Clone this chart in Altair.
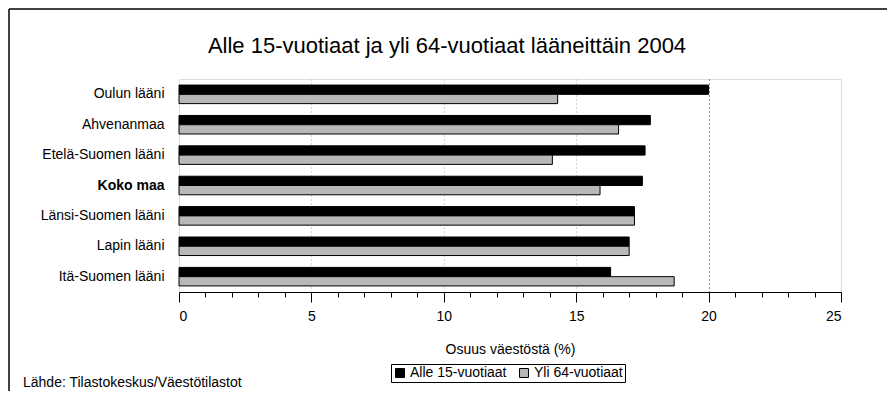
import altair as alt
import pandas as pd

regions = ["Oulun lääni", "Ahvenanmaa", "Etelä-Suomen lääni", "Koko maa",
           "Länsi-Suomen lääni", "Lapin lääni", "Itä-Suomen lääni"]
series = ["Alle 15-vuotiaat", "Yli 64-vuotiaat"]
alle15 = [20.0, 17.8, 17.6, 17.5, 17.2, 17.0, 16.3]
yli64 = [14.3, 16.6, 14.1, 15.9, 17.2, 17.0, 18.7]
x_ticks = list(range(0, 26))

title_text = "Alle 15-vuotiaat ja yli 64-vuotiaat lääneittäin 2004"
x_title = "Osuus väestöstä (%)"
source_text = "Lähde: Tilastokeskus/Väestötilastot"

rows = []
for r, a, y in zip(regions, alle15, yli64):
    rows.append({"alue": r, "sarja": series[0], "osuus": a})
    rows.append({"alue": r, "sarja": series[1], "osuus": y})
df = pd.DataFrame(rows)

FONT = "Liberation Sans"
W, H = 662, 213
PL, PT, PR, PB = 171, 71, 46, 99

bars = alt.Chart(df).mark_bar(stroke="black", strokeWidth=1).encode(
    y=alt.Y("alue:N", sort=regions, title=None,
            scale=alt.Scale(paddingInner=0.39, paddingOuter=0.2),
            axis=alt.Axis(ticks=False, domain=False, labelFontSize=14, labelPadding=15,
                          labelColor="black", labelFont=FONT,
                          labelFontWeight={"condition": {"test": "datum.value === 'Koko maa'", "value": "bold"},
                                           "value": "normal"})),
    yOffset=alt.YOffset("sarja:N", sort=series, scale=alt.Scale(paddingInner=0, paddingOuter=0)),
    x=alt.X("osuus:Q", title=x_title, scale=alt.Scale(domain=[0, 25], nice=False),
            axis=alt.Axis(values=x_ticks, labelExpr="datum.value % 5 === 0 ? datum.label : ''",
                          tickSize={"condition": {"test": "datum.value % 5 === 0", "value": 10}, "value": 5},
                          tickColor="black", domainColor="black", labelColor="black",
                          labelFontSize=14, labelFont=FONT, labelPadding=7,
                          titleFontSize=14, titleFont=FONT, titleFontWeight="normal",
                          titleColor="black", titlePadding=19,
                          grid=True, gridDash=[1, 3], gridWidth=1,
                          gridColor={"condition": {"test": "datum.value === 20", "value": "#222222"},
                                     "value": "#aaaaaa"},
                          gridOpacity={"condition": {"test": "datum.value % 5 === 0 && datum.value > 0 && datum.value < 25",
                                                     "value": 1}, "value": 0})),
    color=alt.Color("sarja:N", sort=series,
                    scale=alt.Scale(domain=series, range=["#000000", "#b8b8b8"]),
                    legend=alt.Legend(title=None, orient="none", legendX=212, legendY=285,
                                      direction="horizontal", strokeColor="black",
                                      padding=2, symbolType="square", symbolSize=80,
                                      symbolStrokeColor="black", symbolStrokeWidth=1,
                                      labelFontSize=14, labelFont=FONT, labelColor="black",
                                      columnPadding=10, symbolOffset=0, labelOffset=3)),
)

frame_data = alt.Data(values=[{"k": 1}])
left = alt.Chart(frame_data).mark_rule(color="black", strokeWidth=1.5).encode(
    x=alt.value(-PL + 1), y=alt.value(-PT + 1), y2=alt.value(H + PB))
top = alt.Chart(frame_data).mark_rule(color="black", strokeWidth=1.5).encode(
    x=alt.value(-PL + 1), x2=alt.value(W + PR), y=alt.value(-PT + 1))

title = alt.Chart(frame_data).mark_text(align="center", baseline="middle", fontSize=22,
                                         font=FONT, color="black").encode(
    x=alt.value(447 - 8 - PL), y=alt.value(46 - 8 - PT), text=alt.value(title_text))

source = alt.Chart(frame_data).mark_text(align="left", baseline="middle", fontSize=14,
                                          font=FONT, color="black").encode(
    x=alt.value(23 - 8 - PL), y=alt.value(383 - 8 - PT), text=alt.value(source_text))

chart = alt.layer(bars, left, top, title, source).properties(
    width=W, height=H,
    padding={"left": PL, "top": PT, "right": PR, "bottom": PB},
    autosize="none",
).configure_view(stroke="black", strokeWidth=1).configure(background="white")

chart.save("out.html", embed_options={"renderer": "svg", "actions": False})
